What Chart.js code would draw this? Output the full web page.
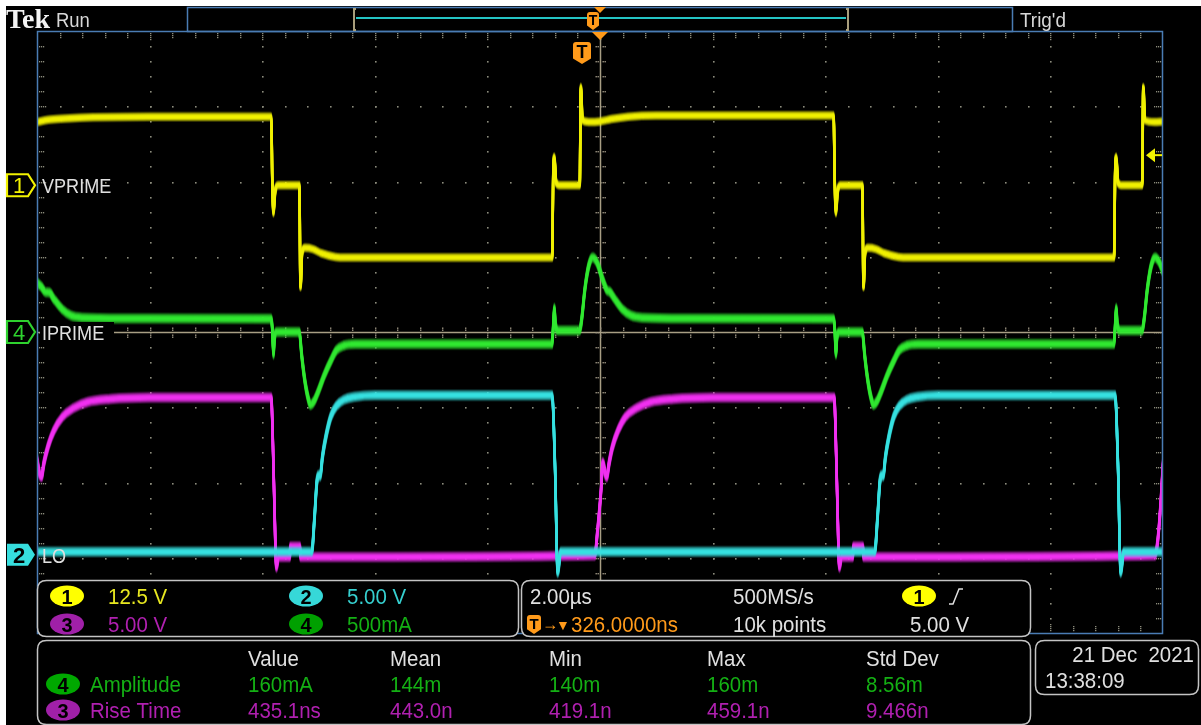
<!DOCTYPE html>
<html><head><meta charset="utf-8">
<script src="https://cdn.jsdelivr.net/npm/chart.js@4.4.1/dist/chart.umd.min.js"></script>
<style>html,body{margin:0;padding:0;background:#000;overflow:hidden}canvas{display:block}</style>
</head><body>
<canvas id="c" width="1201" height="725" style="width:1201px;height:725px"></canvas>
<script>
// ---- channel settings (volts or mA per division, position in divisions) ----
const chScale = {ch1: 12.5, ch2: 5, ch3: 5, ch4: 500};
const chPos   = {ch1: 1.95, ch2: -2.96, ch3: -2.99, ch4: 0};
const timeMin = -10, timeMax = 10; // µs (2.00 µs/div)

// ---- Ch1 VPRIME (V) ----
const ch1T = [-10.0,-9.8,-9.5,-9.0,-8.0,-5.84,-5.82,-5.80,-5.77,-5.72,-5.34,-5.32,-5.29,-5.24,-5.10,-4.95,-4.70,-4.50,-0.85,-0.83,-0.81,-0.78,-0.72,-0.36,-0.34,-0.31,-0.20,0.0,0.2,0.5,1.0,4.15,4.17,4.19,4.22,4.27,4.66,4.68,4.71,4.76,4.90,5.05,5.30,5.50,9.13,9.15,9.17,9.20,9.26,9.63,9.65,9.68,9.85,10.0];
const ch1V = [10.5,10.9,11.1,11.3,11.4,11.4,0.5,-4.6,-1.0,0.0,0.0,-16.9,-11.0,-10.4,-10.6,-11.3,-11.9,-12.0,-12.0,2.0,4.7,0.5,0.0,0.0,16.3,10.8,10.5,10.6,11.0,11.4,11.6,11.6,0.5,-4.6,-1.0,0.0,0.0,-16.9,-11.0,-10.4,-10.6,-11.3,-11.9,-12.0,-12.0,2.0,4.7,0.5,0.0,0.0,16.3,10.8,10.5,10.6];

// ---- Ch4 IPRIME (mA) ----
const ch4T = [-10.0,-9.92,-9.85,-9.78,-9.70,-9.55,-9.40,-9.2,-8.5,-5.84,-5.82,-5.80,-5.78,-5.74,-5.34,-5.30,-5.24,-5.17,-5.14,-5.08,-5.00,-4.90,-4.78,-4.68,-4.55,-4.35,-0.85,-0.83,-0.81,-0.79,-0.74,-0.36,-0.32,-0.27,-0.20,-0.13,-0.05,0.03,0.12,0.18,0.26,0.40,0.55,0.75,1.5,4.15,4.17,4.19,4.21,4.25,4.66,4.70,4.76,4.83,4.86,4.92,5.00,5.10,5.22,5.32,5.45,5.65,9.13,9.15,9.17,9.19,9.24,9.63,9.67,9.72,9.79,9.86,9.94,10.0];
const ch4I = [330,300,265,262,220,150,110,95,90,88,20,-150,-30,0,0,-150,-330,-460,-485,-460,-390,-290,-190,-120,-90,-80,-80,40,160,40,10,10,100,280,440,495,460,370,280,265,220,150,110,95,90,88,20,-150,-30,0,0,-150,-330,-460,-485,-460,-390,-290,-190,-120,-90,-80,-80,40,160,40,10,10,100,280,440,495,460,400];

// ---- Ch3 (V) ----
const ch3T = [-10.0,-9.96,-9.92,-9.88,-9.80,-9.70,-9.55,-9.35,-9.10,-8.70,-8.0,-5.84,-5.82,-5.78,-5.75,-5.71,-5.51,-5.50,-5.33,-5.32,-0.09,-0.05,0.02,0.05,0.09,0.12,0.16,0.22,0.32,0.45,0.65,0.90,1.30,2.0,4.16,4.18,4.22,4.25,4.29,4.49,4.50,4.67,4.68,9.86,9.91,9.96,10.0];
const ch3V = [6.5,5.6,5.3,6.2,7.4,8.4,9.3,9.9,10.3,10.5,10.6,10.6,9.0,3.0,-0.7,0.0,0.0,0.7,0.7,0.0,0.1,1.5,4.5,6.3,5.6,5.3,6.2,7.3,8.4,9.3,9.9,10.3,10.5,10.6,10.6,9.0,3.0,-0.7,0.0,0.0,0.7,0.7,0.0,0.1,1.2,3.6,6.2];

// ---- Ch2 LO (V) ----
const ch2T = [-10.0,-5.12,-5.07,-5.03,-5.00,-4.97,-4.93,-4.86,-4.78,-4.68,-4.55,-4.35,-4.0,-0.85,-0.80,-0.75,-0.70,4.88,4.93,4.97,5.00,5.03,5.07,5.14,5.22,5.32,5.45,5.65,6.0,9.15,9.20,9.25,9.30,10.0];
const ch2V = [0.2,0.2,2.5,4.8,5.3,5.2,6.5,8.0,9.2,9.9,10.3,10.5,10.6,10.6,6.0,-1.2,0.2,0.2,2.5,4.8,5.3,5.2,6.5,8.0,9.2,9.9,10.3,10.5,10.6,10.6,6.0,-1.2,0.2,0.2];

// ---- readouts ----
const chanReadouts = [['1','12.5 V'],['2','5.00 V'],['3','5.00 V'],['4','500mA']];
const horizReadouts = ['2.00µs','500MS/s','326.0000ns','10k points','5.00 V'];
const measHeaders = ['Value','Mean','Min','Max','Std Dev'];
const measAmplitude = ['160mA','144m','140m','160m','8.56m'];
const measRise = ['435.1ns','443.0n','419.1n','459.1n','9.466n'];
const dateText = ['21 Dec  2021','13:38:09'];

const COL = {y:'#f0f000', c:'#36e0e0', m:'#f030f0', g:'#30e830'};
const FONT = '"Liberation Sans", Arial, sans-serif';

function pts(t, v){ return t.map((x,i)=>({x:x, y:v[i]})); }
function axis(ch){ return {type:'linear', display:false, min:(-4-chPos[ch])*chScale[ch], max:(4-chPos[ch])*chScale[ch]}; }

function txt(ctx, s, x, y, color, size, opt){
  opt = opt || {};
  const sq = opt.sq != null ? opt.sq : 0.93;
  ctx.save();
  ctx.font = (opt.weight||'normal') + ' ' + size + 'px ' + (opt.family||FONT);
  ctx.fillStyle = color; ctx.textBaseline = 'alphabetic'; ctx.textAlign = 'left';
  const w = ctx.measureText(s).width * sq;
  let x0 = x; if (opt.align==='center') x0 = x - w/2; else if (opt.align==='right') x0 = x - w;
  ctx.translate(x0, y); ctx.scale(sq, 1); ctx.fillText(s, 0, 0);
  ctx.restore();
}
function rrect(ctx,x,y,w,h,r){
  ctx.beginPath(); ctx.moveTo(x+r,y); ctx.lineTo(x+w-r,y); ctx.quadraticCurveTo(x+w,y,x+w,y+r);
  ctx.lineTo(x+w,y+h-r); ctx.quadraticCurveTo(x+w,y+h,x+w-r,y+h); ctx.lineTo(x+r,y+h);
  ctx.quadraticCurveTo(x,y+h,x,y+h-r); ctx.lineTo(x,y+r); ctx.quadraticCurveTo(x,y,x+r,y); ctx.closePath();
}
function badge(ctx,cx,cy,color,label){
  ctx.save(); ctx.fillStyle=color; ctx.beginPath(); ctx.ellipse(cx,cy,17,10.5,0,0,Math.PI*2); ctx.fill(); ctx.restore();
  txt(ctx,label,cx,cy+7.5,'#000',21,{align:'center',sq:0.95,weight:'bold'});
}
function tBadge(ctx,x,y,w,h){
  ctx.save(); ctx.fillStyle='#ff9a1a';
  ctx.beginPath(); ctx.moveTo(x+3,y); ctx.lineTo(x+w-3,y); ctx.quadraticCurveTo(x+w,y,x+w,y+3);
  ctx.lineTo(x+w,y+h*0.75); ctx.lineTo(x+w/2,y+h); ctx.lineTo(x,y+h*0.75); ctx.lineTo(x,y+3); ctx.quadraticCurveTo(x,y,x+3,y); ctx.closePath(); ctx.fill();
  ctx.restore();
  txt(ctx,'T',x+w/2,y+h*0.72,'#000',Math.round(h*0.8),{align:'center',sq:1,weight:'bold'});
}
function marker(ctx,y,color,label,filled){
  ctx.save(); ctx.beginPath(); ctx.moveTo(7,y-11); ctx.lineTo(28,y-11); ctx.lineTo(35,y); ctx.lineTo(28,y+11); ctx.lineTo(7,y+11); ctx.closePath();
  if(filled){ ctx.fillStyle=color; ctx.fill(); } else { ctx.fillStyle='#000'; ctx.fill(); ctx.strokeStyle=color; ctx.lineWidth=2.2; ctx.stroke(); }
  ctx.restore();
  txt(ctx,label,19,y+8,filled?'#000':color,22,{align:'center',sq:1,weight: filled?'bold':'normal'});
}

const bg = {
  id:'bg',
  beforeDraw(chart){
    const ctx=chart.ctx; ctx.save(); ctx.fillStyle='#000'; ctx.fillRect(0,0,chart.width,chart.height);
    ctx.fillStyle='#fff'; ctx.fillRect(0,0,chart.width,6); ctx.fillRect(0,0,6,chart.height); ctx.restore();
  }
};

const grid = {
  id:'grid',
  beforeDatasetsDraw(chart){
    const ctx=chart.ctx, a=chart.chartArea;
    const W=a.right-a.left, H=a.bottom-a.top, dx=W/10, dy=H/8;
    ctx.save();
    ctx.fillStyle='#8c8c7c';
    for(let i=1;i<10;i++){ if(i===5) continue; const x=Math.round(a.left+i*dx);
      for(let j=1;j<40;j++){ const y=Math.round(a.top+j*dy/5); ctx.fillRect(x,y,1.6,1.6); } }
    for(let k=1;k<8;k++){ if(k===4) continue; const y=Math.round(a.top+k*dy);
      for(let j=1;j<50;j++){ const x=Math.round(a.left+j*dx/5); ctx.fillRect(x,y,1.6,1.6); } }
    // edge ticks
    for(let j=1;j<50;j++){ const x=Math.round(a.left+j*dx/5); const L=(j%5===0)?8:5;
      for(let s=0;s<L;s+=2){ ctx.fillRect(x,a.top+2+s,1.4,1.2); ctx.fillRect(x,a.bottom-3-s,1.4,1.2);} }
    for(let j=1;j<40;j++){ const y=Math.round(a.top+j*dy/5); const L=(j%5===0)?8:5;
      for(let s=0;s<L;s+=2){ ctx.fillRect(a.left+2+s,y,1.2,1.4); ctx.fillRect(a.right-3-s,y,1.2,1.4);} }
    // center crosshair
    const cx=Math.round(a.left+5*dx)+0.5, cy=Math.round(a.top+4*dy)+0.5;
    ctx.strokeStyle='#a89e84'; ctx.lineWidth=1.5;
    ctx.beginPath(); ctx.moveTo(a.left,cy); ctx.lineTo(a.right,cy); ctx.moveTo(cx,a.top); ctx.lineTo(cx,a.bottom); ctx.stroke();
    ctx.fillStyle='#9a9280';
    for(let j=1;j<50;j++){ const x=Math.round(a.left+j*dx/5); ctx.fillRect(x,cy-5,1.4,1.4); ctx.fillRect(x,cy-3,1.4,1.4); ctx.fillRect(x,cy+2,1.4,1.4); ctx.fillRect(x,cy+4,1.4,1.4); }
    for(let j=1;j<40;j++){ const y=Math.round(a.top+j*dy/5); ctx.fillRect(cx-5,y,1.4,1.4); ctx.fillRect(cx-3,y,1.4,1.4); ctx.fillRect(cx+2,y,1.4,1.4); ctx.fillRect(cx+4,y,1.4,1.4); }
    ctx.restore();
  }
};

const glow = {
  id:'glow',
  beforeDatasetDraw(chart,args){
    const ds=chart.data.datasets[args.index]; if(!ds.glow) return;
    const ctx=chart.ctx, a=chart.chartArea;
    ctx.save(); ctx.beginPath(); ctx.rect(a.left,a.top,a.right-a.left,a.bottom-a.top); ctx.clip();
    for(const g of ds.glow){ ctx.save(); ctx.globalAlpha=g[1]; ctx.translate(0,g[0]); args.meta.controller.draw(); ctx.restore(); }
    ctx.restore();
  }
};

const overlay = {
  id:'overlay',
  afterDraw(chart){
    const ctx=chart.ctx, a=chart.chartArea;
    // plot border
    ctx.save(); ctx.strokeStyle='#4a7cb4'; ctx.lineWidth=1.5;
    ctx.strokeRect(a.left+0.5,a.top+0.5,a.right-a.left-1,a.bottom-a.top);
    // top record bar
    ctx.strokeRect(187.5,7.5,825,24);
    ctx.strokeStyle='#a89e7c'; ctx.lineWidth=2;
    ctx.beginPath(); ctx.moveTo(356,9); ctx.lineTo(354,9); ctx.lineTo(354,30); ctx.lineTo(356,30);
    ctx.moveTo(846,9); ctx.lineTo(848,9); ctx.lineTo(848,30); ctx.lineTo(846,30); ctx.stroke();
    ctx.strokeStyle='#24c4c4'; ctx.lineWidth=2; ctx.beginPath(); ctx.moveTo(356,18); ctx.lineTo(846,18); ctx.stroke();
    ctx.fillStyle='#ff9a1a';
    ctx.beginPath(); ctx.moveTo(594,7); ctx.lineTo(606,7); ctx.lineTo(600,13); ctx.closePath(); ctx.fill();
    ctx.beginPath(); ctx.moveTo(592,32); ctx.lineTo(608,32); ctx.lineTo(600,40); ctx.closePath(); ctx.fill();
    // trigger level arrow (right)
    const ty = chart.scales.y1.getPixelForValue(5.0);
    ctx.fillStyle='#f2f200'; ctx.beginPath(); ctx.moveTo(1146,ty); ctx.lineTo(1155,ty-7); ctx.lineTo(1155,ty+7); ctx.closePath(); ctx.fill();
    ctx.fillRect(1154,ty-1,8,2);
    ctx.restore();
    tBadge(ctx,587,12,12,18);
    tBadge(ctx,573,42,18,22);

    txt(ctx,'Tek',6,28,'#f4f4f4',28,{family:'"Liberation Serif", "Times New Roman", serif',weight:'bold',sq:1});
    txt(ctx,'Run',56,27,'#d8d8d8',21,{sq:0.88});
    txt(ctx,"Trig'd",1020,27,'#d8d8d8',21,{sq:0.9});

    // channel markers
    const y1p = chart.scales.y1.getPixelForValue(0), y4p=chart.scales.y4.getPixelForValue(0), y2p=chart.scales.y2.getPixelForValue(0);
    marker(ctx, y1p, '#f2f200', '1', false);
    marker(ctx, y4p, '#2ed22e', '4', false);
    marker(ctx, y2p, '#36dede', '2', true);
    txt(ctx,'VPRIME',42,y1p+8,'#e0e0e0',21,{sq:0.86});
    ctx.save(); ctx.fillStyle='#000'; ctx.fillRect(40,y4p-10,74,20); ctx.restore();
    txt(ctx,'IPRIME',42,y4p+8,'#e0e0e0',21,{sq:0.86});
    txt(ctx,'LO',42,y2p+8,'#e0e0e0',21,{sq:0.86});

    // info boxes
    ctx.save(); ctx.strokeStyle='#c4c4c4'; ctx.lineWidth=1.5;
    const boxes=[[37,580,481,56],[521,580,509,56],[37,640,993,84],[1035,640,163,54]];
    for(const b of boxes){ rrect(ctx,b[0]+0.5,b[1]+0.5,b[2],b[3],9); ctx.fillStyle='#000'; ctx.fill(); ctx.stroke(); }
    ctx.restore();

    badge(ctx,67,596,'#ffff00',chanReadouts[0][0]); txt(ctx,chanReadouts[0][1],108,604,'#e8e820',22);
    badge(ctx,306,596,'#36d8d8',chanReadouts[1][0]); txt(ctx,chanReadouts[1][1],347,604,'#36d0d0',22);
    badge(ctx,67,624,'#a020a8',chanReadouts[2][0]); txt(ctx,chanReadouts[2][1],108,632,'#b020b0',22);
    badge(ctx,306,624,'#00a000',chanReadouts[3][0]); txt(ctx,chanReadouts[3][1],347,632,'#14b014',22);

    txt(ctx,horizReadouts[0],530,604,'#e0e0e0',22);
    txt(ctx,horizReadouts[1],733,604,'#e0e0e0',22);
    badge(ctx,919,596,'#ffff00','1');
    ctx.save(); ctx.strokeStyle='#e0e0e0'; ctx.lineWidth=1.5; ctx.beginPath(); ctx.moveTo(949,604); ctx.lineTo(953,604); ctx.lineTo(959,589); ctx.lineTo(963,589); ctx.stroke(); ctx.restore();
    tBadge(ctx,527,615,14,19);
    txt(ctx,'→',542,630,'#ff9a1a',18,{sq:0.9});
    txt(ctx,'▼',556,630,'#ff9a1a',14,{sq:1});
    txt(ctx,horizReadouts[2],571,632,'#ff9a1a',22);
    txt(ctx,horizReadouts[3],733,632,'#e0e0e0',22);
    txt(ctx,horizReadouts[4],910,632,'#e0e0e0',22);

    const colsX=[248,390,549,707,866];
    measHeaders.forEach((h,i)=>txt(ctx,h,colsX[i],666,'#e0e0e0',22));
    badge(ctx,63,684,'#00a800','4'); txt(ctx,'Amplitude',90,692,'#14b014',22);
    measAmplitude.forEach((h,i)=>txt(ctx,h,colsX[i],692,'#14b014',22));
    badge(ctx,63,710,'#a020a8','3'); txt(ctx,'Rise Time',90,718,'#b020b0',22);
    measRise.forEach((h,i)=>txt(ctx,h,colsX[i],718,'#b020b0',22));

    txt(ctx,dateText[0],1194,662,'#e0e0e0',22,{align:'right'});
    txt(ctx,dateText[1],1045,688,'#e0e0e0',22);
  }
};

function ds(label,t,v,axisId,color,width,glowSpec,order){
  return {label:label,data:pts(t,v),yAxisID:axisId,borderColor:color,borderWidth:width,pointRadius:0,
    cubicInterpolationMode:'monotone',fill:false,glow:glowSpec,order:order};
}
const band = [[-4,0.2],[-3,0.4],[-2,0.6],[-1,0.85],[1,0.85],[2,0.6],[3,0.4],[4,0.2]];
const bandWide = [[-5,0.15],[-4,0.3],[-3,0.45],[-2,0.65],[-1,0.85],[1,0.85],[2,0.65],[3,0.45],[4,0.3],[5,0.15]];

new Chart(document.getElementById('c').getContext('2d'), {
  type:'line',
  data:{datasets:[
    ds('VPRIME',ch1T,ch1V,'y1',COL.y,2.5,band,1),
    ds('IPRIME',ch4T,ch4I,'y4',COL.g,2.5,bandWide,2),
    ds('LO',ch2T,ch2V,'y2',COL.c,2.5,bandWide,3),
    ds('CH3',ch3T,ch3V,'y3',COL.m,2.5,bandWide,4)
  ]},
  options:{
    responsive:false, animation:false, devicePixelRatio:1,
    layout:{padding:{left:37,right:38,top:31,bottom:92}},
    scales:{
      x:{type:'linear',display:false,min:timeMin,max:timeMax},
      y1:axis('ch1'), y2:axis('ch2'), y3:axis('ch3'), y4:axis('ch4')
    },
    plugins:{legend:{display:false},tooltip:{enabled:false}},
    elements:{point:{radius:0}}
  },
  plugins:[bg,grid,glow,overlay]
});
</script></body></html>
